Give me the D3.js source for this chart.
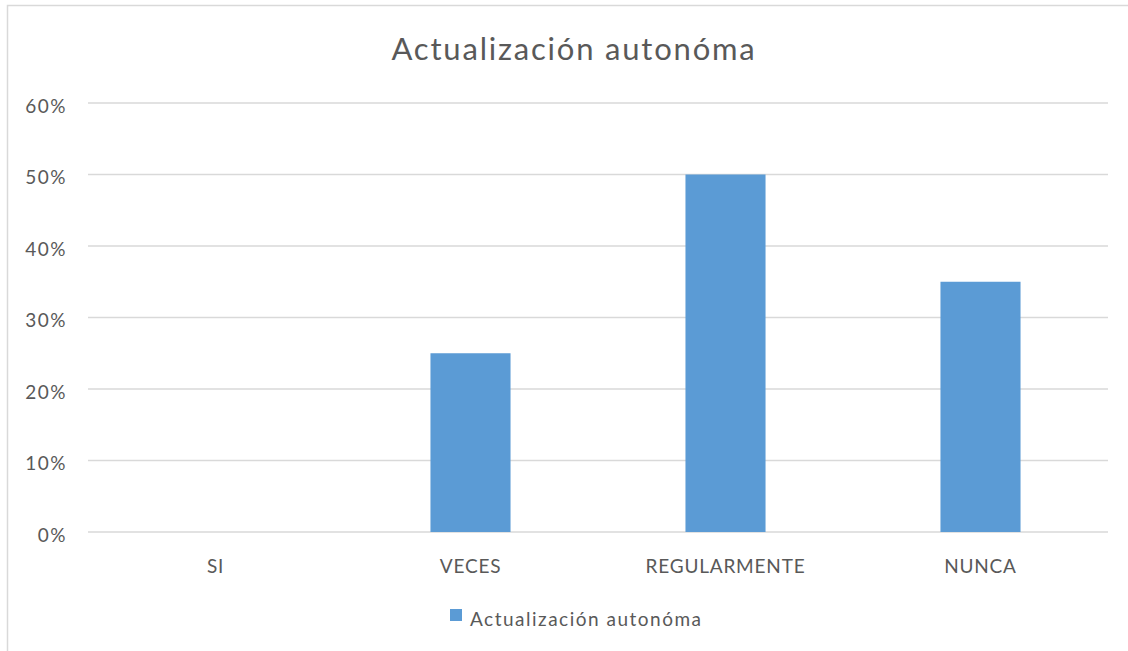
<!DOCTYPE html>
<html><head><meta charset="utf-8">
<script src="https://cdn.jsdelivr.net/npm/d3@7"></script>
<style>body{margin:0;background:#fff;} svg{display:block;} text{font-family:Lato,"Open Sans",sans-serif;}</style>
</head><body>
<svg id="chart" width="1128" height="651"></svg>
<script>
const categories = ["SI", "VECES", "REGULARMENTE", "NUNCA"];
const values = [0, 0.25, 0.50, 0.35];
const yTicks = [0, 0.1, 0.2, 0.3, 0.4, 0.5, 0.6];
const seriesName = "Actualización autonóma";
const title = "Actualización autonóma";

const svg = d3.select("#chart");
const W = 1128, H = 651;
const m = {left: 88, right: 20, top: 103, bottom: 119};

svg.append("rect").attr("x", 7.5).attr("y", 5.5).attr("width", 1130).attr("height", 660)
  .attr("fill", "#fff").attr("stroke", "#d9d9d9").attr("stroke-width", 1.5);

const y = d3.scaleLinear().domain([0, 0.6]).range([H - m.bottom, m.top]);
const xb = d3.scaleBand().domain(categories).range([m.left, W - m.right]);
const barW = xb.bandwidth() * 0.314;

// gridlines
svg.append("g").selectAll("line").data(yTicks).join("line")
  .attr("x1", m.left).attr("x2", W - m.right)
  .attr("y1", d => y(d)).attr("y2", d => y(d))
  .attr("stroke", "#d9d9d9").attr("stroke-width", 1.5);

// y labels
const yAxis = d3.axisLeft(y).tickValues(yTicks).tickFormat(d3.format(".0%")).tickSize(0).tickPadding(0);
const gy = svg.append("g").attr("transform", `translate(67,0)`).call(yAxis);
gy.select(".domain").remove();
gy.selectAll("text").attr("font-size", 19).attr("fill", "#595959")
  .attr("font-family", "Lato, sans-serif").attr("letter-spacing", 1.5).attr("dy", 9);

// bars
svg.append("g").selectAll("rect").data(categories).join("rect")
  .attr("x", (d) => xb(d) + xb.bandwidth()/2 - barW/2)
  .attr("width", barW)
  .attr("y", (d, i) => y(values[i]))
  .attr("height", (d, i) => y(0) - y(values[i]))
  .attr("fill", "#5b9bd5");

// x axis labels
const xAxis = d3.axisBottom(xb).tickSize(0).tickPadding(0);
const gx = svg.append("g").attr("transform", `translate(0,${y(0) + 41})`).call(xAxis);
gx.select(".domain").remove();
gx.selectAll("text").attr("font-size", 19).attr("fill", "#595959").attr("dy", 0).attr("y", 0)
  .attr("font-family", "Lato, sans-serif").attr("letter-spacing", 0.8);

// title
svg.append("text").attr("x", 574).attr("y", 60).attr("text-anchor", "middle")
  .attr("font-size", 31).attr("letter-spacing", 1.8).attr("fill", "#595959").text(title);

// legend
const lg = svg.append("g");
lg.append("rect").attr("x", 450).attr("y", 609).attr("width", 12).attr("height", 12).attr("fill", "#5b9bd5");
lg.append("text").attr("x", 470).attr("y", 625.5).attr("font-size", 19).attr("letter-spacing", 1.5)
  .attr("fill", "#595959").text(seriesName);
</script>
</body></html>
